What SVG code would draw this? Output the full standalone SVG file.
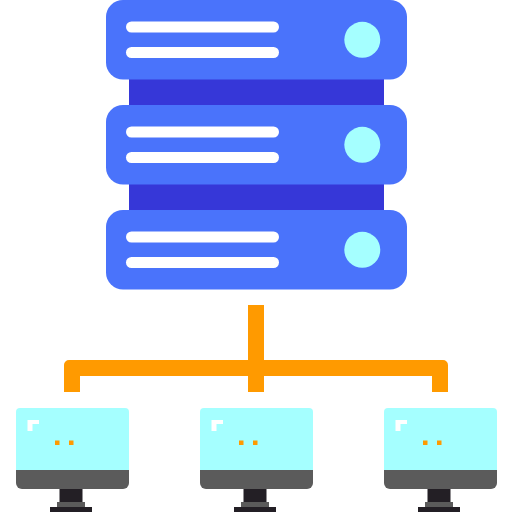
<svg xmlns="http://www.w3.org/2000/svg" width="512" height="512" viewBox="0 0 512 512">
<style>
.body{fill:#4a73fb}.rack{fill:#3637d8}.bar{fill:#fff}.led{fill:#a5ffff}.wire{fill:#ff9a00}
.screen{fill:#a5ffff}.bezel{fill:#5b5b5b}.stand{fill:#231f25}.glint{fill:#fff}
</style>
<defs>
<g id="unit">
<rect class="body" x="106" y="0" width="301" height="79.500" rx="17"/>
<rect class="bar" x="126" y="21.500" width="153" height="11" rx="5.500"/>
<rect class="bar" x="126" y="47" width="153" height="11" rx="5.500"/>
<circle class="led" cx="362.300" cy="39.800" r="18"/>
</g>
<g id="pc">
<path class="screen" d="M16 470V412a4 4 0 0 1 4-4H125a4 4 0 0 1 4 4V470Z"/>
<path class="bezel" d="M16 470H129V483a6 6 0 0 1-6 6H22a6 6 0 0 1-6-6Z"/>
<rect class="stand" x="59.500" y="489" width="23" height="14"/>
<rect class="bezel" x="57" y="502" width="28" height="5"/>
<rect class="stand" x="50" y="507" width="42" height="5"/>
<path class="glint" d="M27.500 431V420H39V424H32.500V431Z"/>
<rect class="wire" x="55" y="440.500" width="4.500" height="4.500"/>
<rect class="wire" x="69" y="440.500" width="4.500" height="4.500"/>
</g>
</defs>
<g id="connectors">
<path class="wire" d="M248 305H264V360H443a5 5 0 0 1 5 5V392H432V376H264V392H248V376H80V392H64V365a5 5 0 0 1 5-5H248Z"/>
</g>
<g id="racks">
<rect class="rack" x="129" y="79" width="255" height="26"/>
<rect class="rack" x="129" y="184" width="255" height="26"/>
</g>
<g id="server-1"><use href="#unit"/></g>
<g id="server-2"><use href="#unit" y="105"/></g>
<g id="server-3"><use href="#unit" y="210"/></g>
<g id="computer-1"><use href="#pc"/></g>
<g id="computer-2"><use href="#pc" x="184"/></g>
<g id="computer-3"><use href="#pc" x="368"/></g>
</svg>
